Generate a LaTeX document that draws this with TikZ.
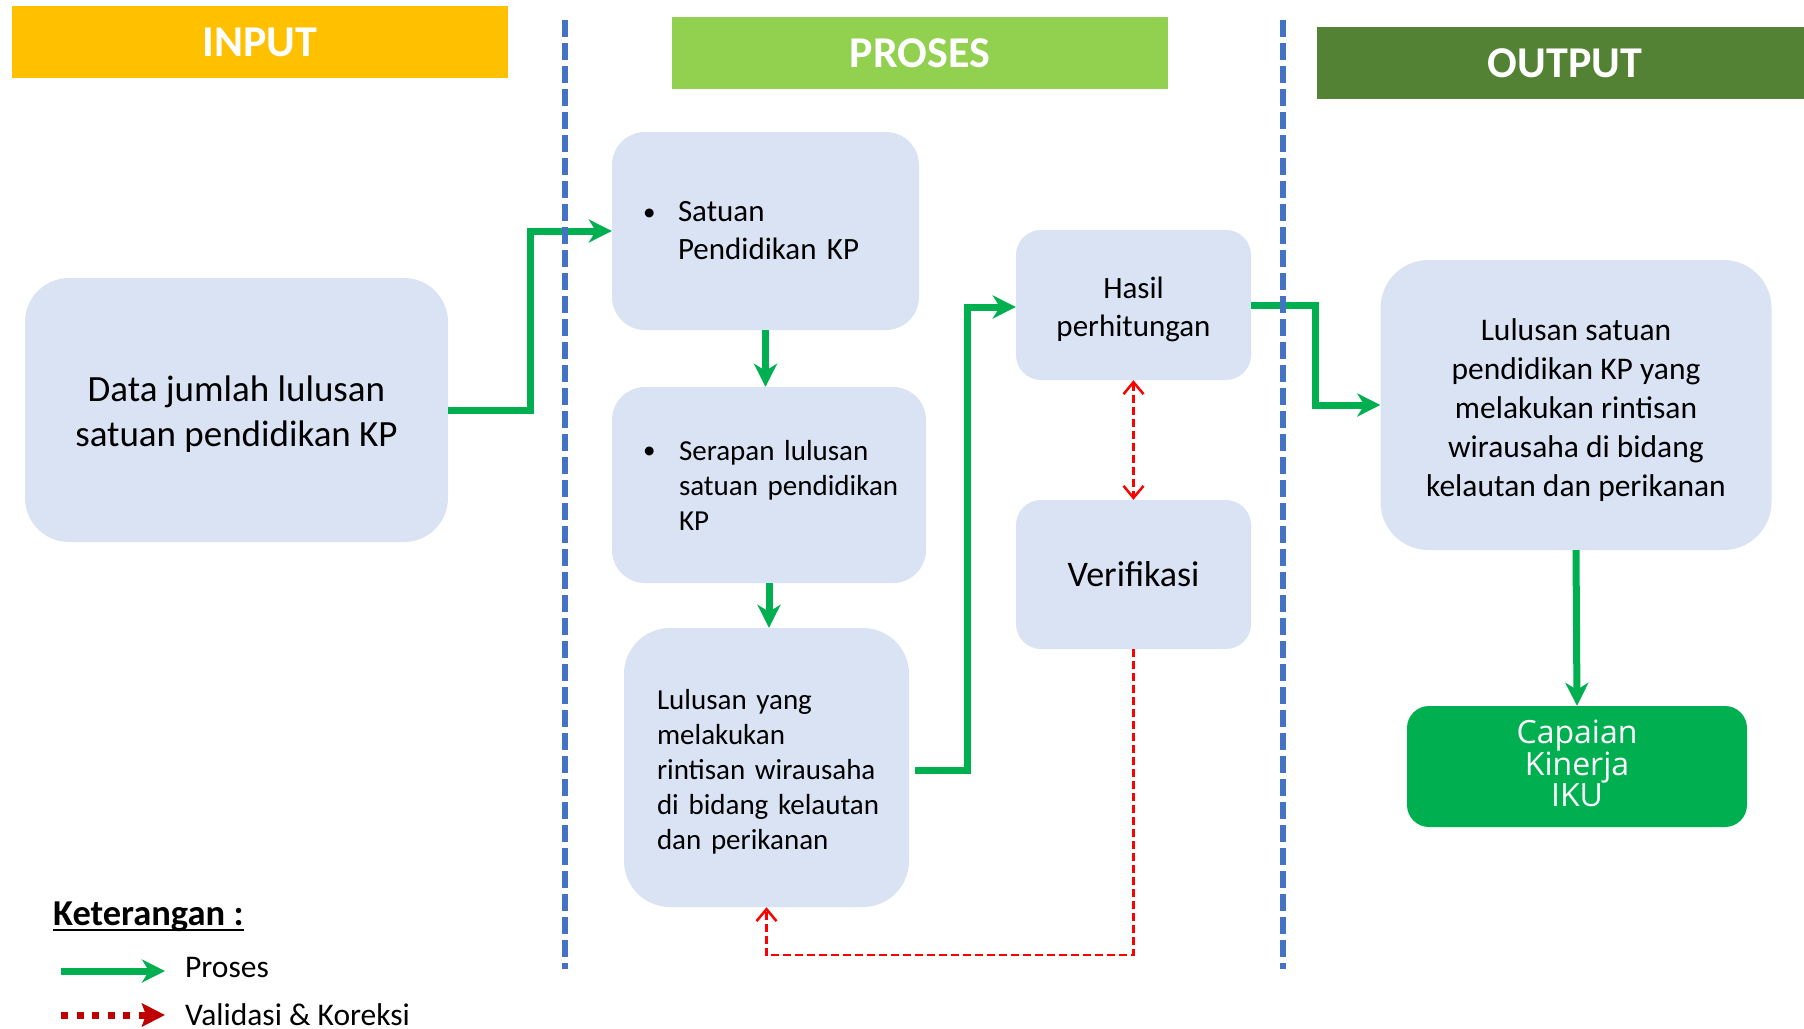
\documentclass[tikz,border=0pt]{standalone}
\usepackage{fontspec}
\setmainfont{Carlito}
\newfontfamily\capfont{Open Sans}
\usetikzlibrary{arrows.meta}
\definecolor{boxblue}{HTML}{DAE3F3}
\definecolor{procgreen}{HTML}{00B050}
\definecolor{inyellow}{HTML}{FFC000}
\definecolor{prosgreen}{HTML}{92D050}
\definecolor{outgreen}{HTML}{548235}
\definecolor{dashblue}{HTML}{4472C4}
\definecolor{vred}{HTML}{FF0000}
\definecolor{dred}{HTML}{C00000}
\newcommand{\mybul}[1]{\makebox[#1][l]{\hspace*{-3pt}\raisebox{1.5pt}{\fontsize{25}{25}\selectfont\textbullet}}}
\begin{document}
\begin{tikzpicture}[x=1pt,y=-1pt,
  box/.style={fill=boxblue, draw=none, inner sep=0pt, text=black},
  hdr/.style={inner sep=0pt, text=white, minimum width=496pt, minimum height=72pt, font=\fontsize{44}{52}\selectfont\bfseries},
  garrow/.style={draw=procgreen, line width=7pt, -{Stealth[length=23pt,width=23pt,inset=7pt]}},
  rarrow/.style={draw=vred, line width=2.5pt, dash pattern=on 8pt off 4pt, -{Straight Barb[length=12pt,width=20pt]}},
  rdouble/.style={draw=vred, line width=2.5pt, dash pattern=on 8pt off 4pt, {Straight Barb[length=12pt,width=20pt]}-{Straight Barb[length=12pt,width=20pt]}},
  bluedash/.style={draw=dashblue, line width=5.5pt, dash pattern=on 17pt off 6pt},
  legred/.style={draw=dred, line width=7pt, dash pattern=on 7pt off 8.5pt, -{Stealth[length=23pt,width=23pt,inset=4pt]}},
  legtext/.style={anchor=base west, inner sep=0pt, font=\fontsize{31.5}{37}\selectfont}
]
\useasboundingbox (0,0) rectangle (1804,1028);

% headers
\node[hdr, fill=inyellow] (hin) at (260,42) {INPUT};
\node[hdr, fill=prosgreen] (hpro) at (920,53) {PROSES};
\node[hdr, fill=outgreen] (hout) at (1565,63) {OUTPUT};

% boxes
\node[box, minimum width=423pt, minimum height=264pt, rounded corners=44pt, align=center,
  font=\fontsize{37}{45}\selectfont] (data) at (236.5,410)
  {\rule{0pt}{34pt}Data jumlah lulusan\\satuan pendidikan KP};
\node[box, minimum width=307pt, minimum height=198pt, rounded corners=33pt, text width=239pt, align=left,
  font=\fontsize{31}{38}\selectfont] (satuan) at (765.5,231)
  {\mbox{\mybul{32pt}Satuan}\\\mbox{\hspace*{32pt}Pendidikan KP}};
\node[box, minimum width=314pt, minimum height=196pt, rounded corners=33pt, text width=246pt, align=left,
  font=\fontsize{29}{35}\selectfont] (serapan) at (769,485)
  {\mbox{\mybul{33pt}Serapan lulusan}\\\mbox{\hspace*{33pt}satuan pendidikan}\\\mbox{\hspace*{33pt}KP}};
\node[box, minimum width=285pt, minimum height=279pt, rounded corners=46pt, text width=219pt, align=left,
  font=\fontsize{29}{35}\selectfont] (lulusan) at (766.5,767.5)
  {\mbox{\rule{0pt}{28pt}Lulusan yang}\\\mbox{melakukan}\\\mbox{rintisan wirausaha}\\\mbox{di bidang kelautan}\\\mbox{dan perikanan}};
\node[box, minimum width=235pt, minimum height=150pt, rounded corners=25pt, align=center,
  font=\fontsize{31}{38}\selectfont] (hasil) at (1133.5,305) {\rule{0pt}{30pt}Hasil\\perhitungan};
\node[box, minimum width=235pt, minimum height=149pt, rounded corners=25pt, align=center,
  font=\fontsize{36}{43}\selectfont] (verif) at (1133.5,574.5) {Verifikasi};
\node[box, minimum width=391pt, minimum height=290pt, rounded corners=48pt, align=center,
  font=\fontsize{31.5}{38.8}\selectfont] (output) at (1576,405)
  {\rule{0pt}{32pt}Lulusan satuan\\pendidikan KP yang\\melakukan rintisan\\wirausaha di bidang\\kelautan dan perikanan};
\node[fill=procgreen, draw=none, inner sep=0pt, text=white, minimum width=340pt, minimum height=121pt,
  rounded corners=22pt, align=center, font=\capfont\fontsize{32}{31}\selectfont] (capaian) at (1577,766.5)
  {Capaian\\Kinerja\\IKU\rule[-7pt]{0pt}{7pt}};

% green process connectors
\draw[garrow] (data.east) -- ++(82,0) |- (satuan.west);
\draw[garrow] (satuan.south) -- (satuan.south |- serapan.north);
\draw[garrow] (serapan.south) -- (serapan.south |- lulusan.north);
\draw[garrow] ([xshift=6pt,yshift=-2.5pt]lulusan.east) -| ([xshift=-48pt,yshift=-2pt]hasil.west) -- ([yshift=-2pt]hasil.west);
\draw[garrow] (hasil.east) -- ++(64,0) |- (output.west);
\draw[garrow] (output.south) -- (capaian.north);

% red validation connectors
\draw[rdouble] (hasil.south) -- (verif.north);
\coordinate (rb) at (1133.5,955);
\draw[rarrow] (verif.south) -- (rb) -| (lulusan.south);

% dashed separators
\coordinate (d1t) at (565,20); \coordinate (d1b) at (565,969);
\coordinate (d2t) at (1283,20); \coordinate (d2b) at (1283,969);
\draw[bluedash] (d1t) -- (d1b);
\draw[bluedash] (d2t) -- (d2b);

% legend
\node[anchor=base west, inner sep=0pt, font=\fontsize{36.5}{40}\selectfont\bfseries] (ket) at (53,925) {Keterangan :};
\draw[line width=2.5pt] ([yshift=-5pt]ket.base west) -- ([yshift=-5pt]ket.base east);
\coordinate (lg1) at (61,971); \coordinate (lg2) at (165,971);
\draw[garrow] (lg1) -- (lg2);
\node[legtext] (lp) at (185,977) {Proses};
\coordinate (lr1) at (61,1015); \coordinate (lr2) at (165,1015);
\draw[legred] (lr1) -- (lr2);
\node[legtext] (lv) at (185,1025) {Validasi \& Koreksi};
\end{tikzpicture}
\end{document}
